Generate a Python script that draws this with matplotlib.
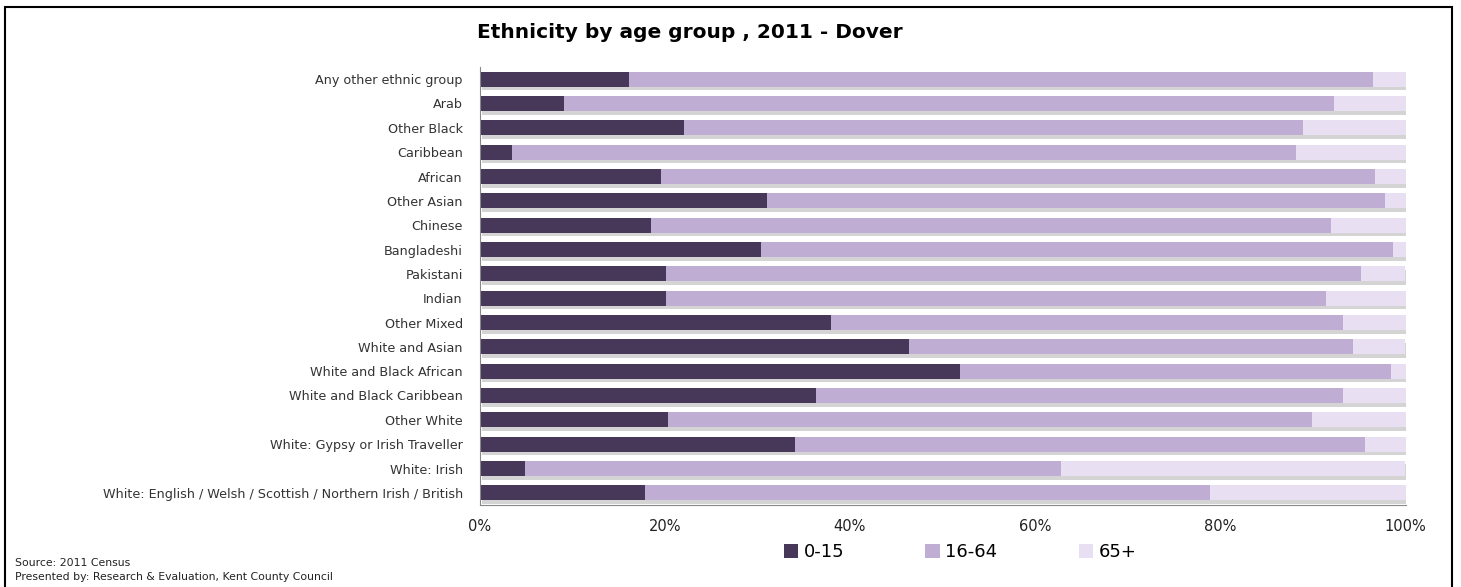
import matplotlib
matplotlib.use("Agg")
import matplotlib.pyplot as plt
import matplotlib.patheffects as pe
from matplotlib.patches import Rectangle
import numpy as np

categories = [
    "Any other ethnic group",
    "Arab",
    "Other Black",
    "Caribbean",
    "African",
    "Other Asian",
    "Chinese",
    "Bangladeshi",
    "Pakistani",
    "Indian",
    "Other Mixed",
    "White and Asian",
    "White and Black African",
    "White and Black Caribbean",
    "Other White",
    "White: Gypsy or Irish Traveller",
    "White: Irish",
    "White: English / Welsh / Scottish / Northern Irish / British",
]
age_0_15 = [16.1, 9.1, 22.1, 3.5, 19.6, 31.0, 18.5, 30.4, 20.1, 20.1,
            38.0, 46.4, 51.9, 36.3, 20.4, 34.1, 4.9, 17.9]
age_16_64 = [80.4, 83.2, 66.8, 84.7, 77.1, 66.8, 73.5, 68.2, 75.1, 71.3,
             55.2, 47.9, 46.5, 56.9, 69.5, 61.5, 57.9, 61.0]
age_65_plus = [3.5, 7.7, 11.1, 11.8, 3.3, 2.2, 8.0, 1.4, 4.8, 8.6,
               6.8, 5.7, 1.6, 6.8, 10.1, 4.4, 37.2, 21.1]
series_labels = ["0-15", "16-64", "65+"]
tick_labels = ["0%", "20%", "40%", "60%", "80%", "100%"]

colors = ["#47385A", "#BFADD3", "#E8E0F2"]

W, H = 1461, 587
fig = plt.figure(figsize=(W / 100, H / 100), dpi=100)
fig.patch.set_facecolor("white")

# outer frame
fig.patches.append(Rectangle((5 / W, -0.05), (1452 - 5) / W, 1.05 - 7 / H,
                             transform=fig.transFigure, fill=False,
                             edgecolor="black", linewidth=1.5))

ax = fig.add_axes([479.5 / W, 1 - 505 / H, 926 / W, (505 - 67) / H])

y = np.arange(len(categories))[::-1]
shadow = [pe.SimplePatchShadow(offset=(1.5, -2.5), shadow_rgbFace="#a0a0a0", alpha=0.45), pe.Normal()]
left = np.zeros(len(categories))
for vals, col, lab in zip([age_0_15, age_16_64, age_65_plus], colors, series_labels):
    v = np.array(vals)
    ax.barh(y, v, left=left, height=0.62, color=col, label=lab,
            edgecolor="none", path_effects=shadow)
    left = left + v

ax.set_xlim(0, 100)
ax.set_ylim(-0.5, len(categories) - 0.5)
ax.set_yticks(y)
ax.set_yticklabels(categories, fontsize=9.2, color="#333333")
ax.set_xticks(np.linspace(0, 100, len(tick_labels)))
ax.set_xticklabels(tick_labels, fontsize=10.5, color="#222222")
ax.tick_params(axis="both", length=0)
ax.tick_params(axis="y", pad=12)
ax.tick_params(axis="x", pad=10)
for s in ["top", "right"]:
    ax.spines[s].set_visible(False)
ax.spines["left"].set_color("#888888")
ax.spines["bottom"].set_color("#888888")

fig.text(690 / W, 1 - 32 / H, "Ethnicity by age group , 2011 - Dover",
         ha="center", va="center", fontsize=14.5, fontweight="bold")

leg = fig.legend(loc="center", bbox_to_anchor=(960 / W, 1 - 552 / H), ncol=3,
                 frameon=False, fontsize=13, handlelength=0.8, handleheight=0.8,
                 handletextpad=0.3, columnspacing=4.5)
for h in leg.legend_handles:
    h.set_path_effects([])

fig.text(15 / W, 1 - 563 / H, "Source: 2011 Census", fontsize=7.8,
         ha="left", va="center", color="#222222")
fig.text(15 / W, 1 - 577 / H, "Presented by: Research & Evaluation, Kent County Council",
         fontsize=7.8, ha="left", va="center", color="#222222")

fig.savefig("out.png", dpi=100, facecolor="white")
